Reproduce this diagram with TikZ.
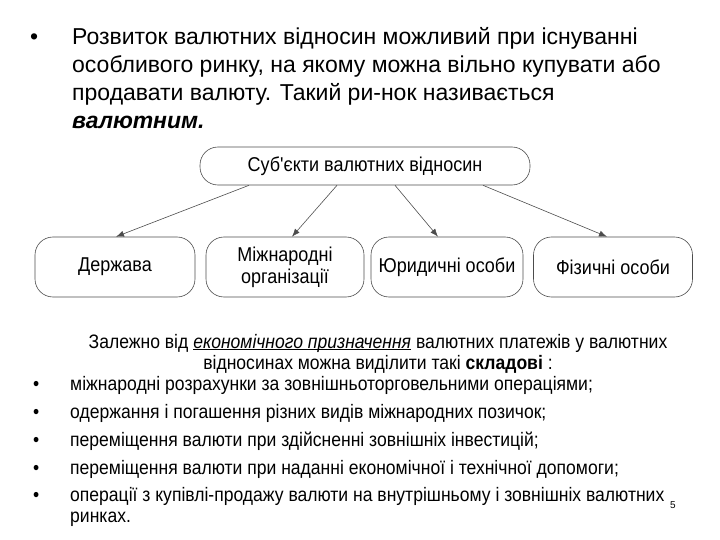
\documentclass[tikz,border=0pt]{standalone}
\usepackage{fontspec}
\setmainfont{Liberation Sans}
\newfontfamily\narrowf[FakeStretch=0.9]{Liberation Sans}
\usetikzlibrary{arrows.meta}
\newcommand\myul[1]{\underline{\smash{#1}}}
\begin{document}
\begin{tikzpicture}[x=1pt,y=-1pt,
  box/.style={draw=black!70,rounded corners=18pt,line width=0.6pt,inner sep=0pt,font=\narrowf\fontsize{20}{22}\selectfont,align=center},
  arr/.style={draw=black!70,line width=0.6pt,-{Latex[length=8pt,width=6pt]}},
  ttl/.style={anchor=base west,inner sep=0pt,font=\fontsize{23}{26}\selectfont},
  lt/.style={anchor=base west,inner sep=0pt,font=\narrowf\fontsize{19.5}{22}\selectfont}]
\useasboundingbox (0,0) rectangle (720,540);
\node[ttl] (b0) at (30,45) {•};
\node[ttl] (t1) at (72,45) {Розвиток валютних відносин можливий при існуванні};
\node[ttl] (t2) at (72,73) {особливого ринку, на якому можна вільно купувати або};
\node[ttl] (t3) at (72,101) {продавати валюту. Такий ри-нок називається};
\node[ttl] (t4) at (72,129) {\textbf{\textit{валютним.}}};
\node[box,minimum width=330pt,minimum height=38pt] (top) at (365,166) {Суб'єкти валютних відносин};
\node[box,minimum width=160pt,minimum height=60pt] (d1) at (115,267) {Держава};
\node[box,minimum width=158pt,minimum height=60pt] (d2) at (285,267) {Міжнародні\\організації};
\node[box,minimum width=152pt,minimum height=60pt] (d3) at (447,267) {Юридичні особи};
\node[box,minimum width=159pt,minimum height=60pt] (d4) at (613,267) {Фізичні особи};
\draw[arr] (top.south -| 249,0) -- (d1.north -| 116,0);
\draw[arr] (top.south -| 337,0) -- (d2.north -| 292,0);
\draw[arr] (top.south -| 395,0) -- (d3.north -| 438,0);
\draw[arr] (top.south -| 483,0) -- (d4.north -| 607,0);
\node[lt,anchor=base] (c1) at (378,348) {Залежно від \myul{\textit{економічного призначення}} валютних платежів у валютних};
\node[lt,anchor=base] (c2) at (378,369) {відносинах можна виділити такі \textbf{складові} :};
\foreach \y/\t [count=\i] in {390/{міжнародні розрахунки за зовнішньоторговельними операціями;},
  418/{одержання і погашення різних видів міжнародних позичок;},
  446/{переміщення валюти при здійсненні зовнішніх інвестицій;},
  474/{переміщення валюти при наданні економічної і технічної допомоги;},
  501/{операції з купівлі-продажу валюти на внутрішньому і зовнішніх валютних}}{
  \node[lt] (bl\i) at (33,\y) {•};
  \node[lt] (l\i) at (70,\y) {\t};
}
\node[lt] (l6) at (70,522) {ринках.};
\node[anchor=base,inner sep=0pt,font=\fontsize{10}{12}\selectfont] (pn) at (673,508) {5};
\end{tikzpicture}
\end{document}
